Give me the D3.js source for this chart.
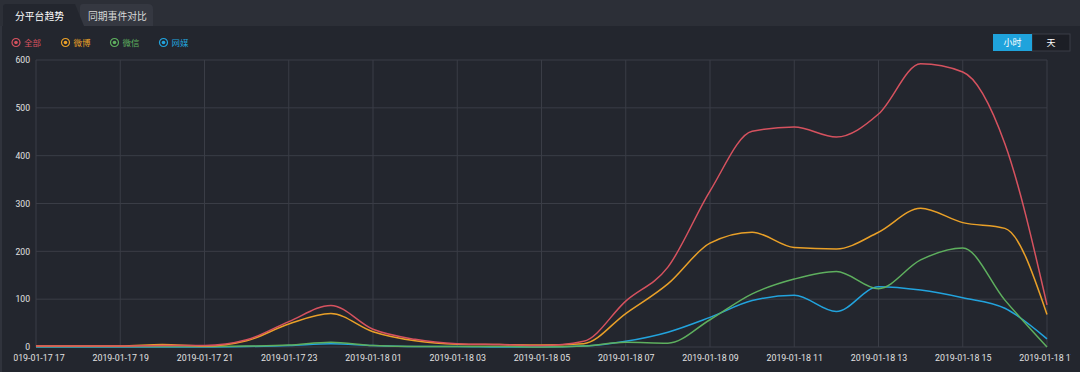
<!DOCTYPE html>
<html>
<head>
<meta charset="utf-8">
<script src="https://cdn.jsdelivr.net/npm/d3@7"></script>
<style>
  body { margin: 0; background: #23262e; }
  svg { display: block; }
  .tick text { font-family: Roboto, "Noto Sans", sans-serif; }
</style>
</head>
<body>
<svg width="1080" height="372"></svg>
<script>
var svg = d3.select("svg"),
  width = +svg.attr("width"),
  height = +svg.attr("height");

// hourly points, 2019-01-17 17 -> 2019-01-18 17
var times = ["2019-01-17 17","2019-01-17 18","2019-01-17 19","2019-01-17 20","2019-01-17 21","2019-01-17 22",
  "2019-01-17 23","2019-01-18 00","2019-01-18 01","2019-01-18 02","2019-01-18 03","2019-01-18 04",
  "2019-01-18 05","2019-01-18 06","2019-01-18 07","2019-01-18 08","2019-01-18 09","2019-01-18 10",
  "2019-01-18 11","2019-01-18 12","2019-01-18 13","2019-01-18 14","2019-01-18 15","2019-01-18 16","2019-01-18 17"]

var quanbu = [2,2,2,3,3,15,53,87,37,16,7,5,3,12,96,167,326,451,460,439,487,592,575,425,88]
var weibo  = [2,2,2,5,2,13,48,70,32,13,6,5,4,7,70,132,217,240,208,205,240,290,260,248,68]
var weixin = [1,1,1,1,1,2,4,10,3,1,1,1,0,2,10,8,57,111,142,158,122,182,207,98,0]
var wangmei = [0,0,0,0,0,1,3,7,3,1,1,0,0,2,12,31,62,97,108,74,126,119,103,81,17]

var seriesNames = ["全部", "微博", "微信", "网媒"]
var seriesColors = ["#d6525f", "#e9a028", "#5eaf5e", "#22a3dd"]
var yTicks = [0, 100, 200, 300, 400, 500, 600]
var modes = ["小时", "天"]

var allSeries = [quanbu, weibo, weixin, wangmei]

var margin = {top: 60, bottom: 25, left: 36, right: 33}

// left edge strip
svg.append("rect")
  .attr("width", 2).attr("height", height)
  .attr("fill", "#30333c")

// header strip + tabs
svg.append("rect")
  .attr("width", width).attr("height", 26)
  .attr("fill", "#2c2f37")

svg.append("path")
  .attr("d", "M80,26 L80,7 Q80,4 83,4 L148,4 Q153,4 153,9 L153,26 Z")
  .attr("fill", "#353841")

svg.append("path")
  .attr("d", "M3,26 L3,7 Q3,4 6,4 L75,4 L84,26 Z")
  .attr("fill", "#23262e")

svg.append("text")
  .attr("x", 15).attr("y", 19.5)
  .text("分平台趋势")
  .style("font-family", "'Noto Sans CJK SC'")
  .style("font-size", "9.8px")
  .attr("fill", "#ffffff")

svg.append("text")
  .attr("x", 88).attr("y", 19.5)
  .text("同期事件对比")
  .style("font-family", "'Noto Sans CJK SC'")
  .style("font-size", "9.8px")
  .attr("fill", "#d8d8d8")

// legend
var legendX = [16, 65.5, 114.5, 163.5]
var legend = svg.append("g")
seriesNames.forEach((name, i) => {
  var lg = legend.append("g").attr("transform", "translate(" + legendX[i] + ",42.5)")
  lg.append("circle").attr("r", 4).attr("fill", "none")
    .attr("stroke", seriesColors[i]).attr("stroke-width", 1.2)
  lg.append("circle").attr("r", 1.8).attr("fill", seriesColors[i])
  lg.append("text")
    .attr("x", 8).attr("y", 3)
    .text(name)
    .style("font-family", "'Noto Sans CJK SC'")
    .style("font-size", "8.5px")
    .attr("fill", seriesColors[i])
})

// hour / day switch
var btn = svg.append("g").attr("transform", "translate(993,34)")
btn.append("rect").attr("x", 39).attr("width", 38).attr("height", 17)
  .attr("fill", "#1c1e25").attr("stroke", "#3a3d46")
btn.append("rect").attr("width", 39).attr("height", 17).attr("fill", "#1fa3dc")
modes.forEach((m, i) => {
  btn.append("text")
    .attr("x", i == 0 ? 19.5 : 58).attr("y", 12)
    .attr("text-anchor", "middle")
    .text(m)
    .style("font-family", "'Noto Sans CJK SC'")
    .style("font-size", "9px")
    .attr("fill", "#ffffff")
})

// scales
var x = d3.scalePoint()
  .domain(times)
  .range([margin.left, width - margin.right])

var y = d3.scaleLinear()
  .domain([0, 600])
  .range([height - margin.bottom, margin.top])

// grid
var grid = svg.append("g")
grid.selectAll(".hgrid").data(yTicks).enter()
  .append("line")
  .attr("x1", margin.left).attr("x2", width - margin.right)
  .attr("y1", d => y(d)).attr("y2", d => y(d))
  .attr("stroke", "#3a3d46").attr("stroke-width", 1)

grid.selectAll(".vgrid").data(times.filter((d, i) => i % 2 == 0)).enter()
  .append("line")
  .attr("x1", d => x(d)).attr("x2", d => x(d))
  .attr("y1", y(600)).attr("y2", y(0))
  .attr("stroke", "#3a3d46").attr("stroke-width", 1)

// the chart canvas cuts the outer x labels
svg.append("clipPath").attr("id", "labelclip")
  .append("rect")
  .attr("x", 13.5).attr("y", 0)
  .attr("width", 1057.5).attr("height", height)

// axes
var xAxis = d3.axisBottom(x)
  .tickValues(times.filter((d, i) => i % 2 == 0))
  .tickSize(0)
  .tickPadding(8)

var gx = svg.append("g")
  .attr("clip-path", "url(#labelclip)")
  .append("g")
  .attr("transform", "translate(0," + y(0) + ")")
  .call(xAxis)
gx.select(".domain").remove()
gx.selectAll("text").attr("fill", "#e2e2e2").style("font-size", "8.8px")

var yAxis = d3.axisLeft(y)
  .tickValues(yTicks)
  .tickSize(0)
  .tickPadding(6)

var gy = svg.append("g")
  .attr("transform", "translate(" + margin.left + ",0)")
  .call(yAxis)
gy.select(".domain").remove()
gy.selectAll("text").attr("fill", "#e2e2e2").style("font-size", "8.6px")

// lines
var line = d3.line()
  .x((d, i) => x(times[i]))
  .y(d => y(d))
  .curve(d3.curveMonotoneX)

svg.append("g").selectAll("path").data(allSeries.slice().reverse()).enter()
  .append("path")
  .attr("d", line)
  .attr("fill", "none")
  .attr("stroke", (d, i) => seriesColors[3 - i])
  .attr("stroke-width", 1.5)
</script>
</body>
</html>
